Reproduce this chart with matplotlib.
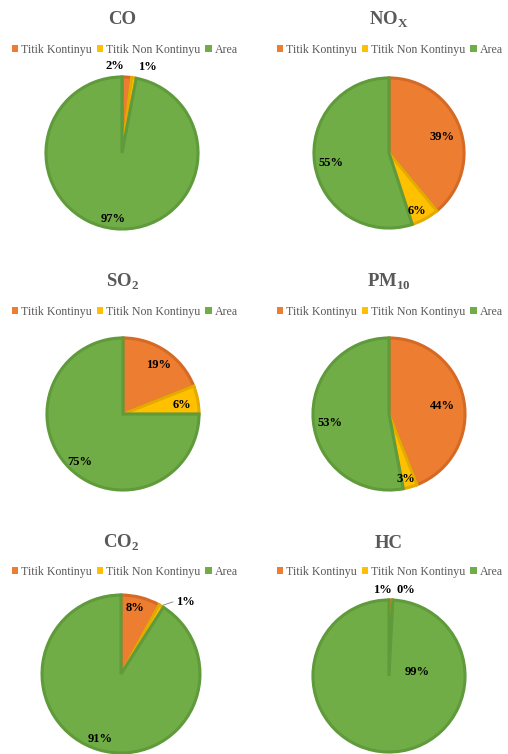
import matplotlib
matplotlib.use("Agg")
import matplotlib.pyplot as plt
from matplotlib.patches import Patch

# ---- data ----
categories = ["Titik Kontinyu", "Titik Non Kontinyu", "Area"]
titles = [r"CO", r"NO$_\mathregular{X}$", r"SO$_\mathregular{2}$",
          r"PM$_\mathregular{10}$", r"CO$_\mathregular{2}$", r"HC"]
co_vals = [2, 1, 97]
nox_vals = [39, 6, 55]
so2_vals = [19, 6, 75]
pm10_vals = [44, 3, 53]
co2_vals = [8, 1, 91]
hc_vals = [0.7, 0.1, 99.2]
all_vals = [co_vals, nox_vals, so2_vals, pm10_vals, co2_vals, hc_vals]

# ---- style / layout ----
colors = ["#ED7D31", "#FFC000", "#70AD47"]
edges = ["#D56A25", "#E3AA00", "#5F9A3B"]
W, H = 508, 754
# pie centre (px), radius (px)
pies = [(122, 153, 78), (389, 153, 77), (123, 414, 78),
        (389, 414, 78), (121, 674, 81), (389, 676, 78)]
title_y = [20, 20, 282, 282, 543, 543]
legend_y = [50, 50, 312, 312, 572, 572]
legend_x = [125, 390, 125, 390, 125, 390]
# label positions in radius units (x right, y up)
label_pos = [
    [(-0.09, 1.12), (0.33, 1.10), (-0.12, -0.85)],
    [(0.69, 0.21), (0.36, -0.75), (-0.75, -0.13)],
    [(0.45, 0.63), (0.76, 0.12), (-0.55, -0.62)],
    [(0.69, 0.10), (0.22, -0.83), (-0.76, -0.12)],
    [(0.17, 0.81), (0.80, 0.89), (-0.26, -0.80)],
    [(-0.09, 1.10), (0.22, 1.10), (0.36, 0.05)],
]
serif = ["Liberation Serif", "DejaVu Serif"]

fig = plt.figure(figsize=(W / 100, H / 100), dpi=100)
fig.patch.set_facecolor("white")

for i, vals in enumerate(all_vals):
    cx, cy, r = pies[i]
    ax = fig.add_axes([(cx - r) / W, 1 - (cy + r) / H, 2 * r / W, 2 * r / H])
    wedges, _ = ax.pie(vals, colors=colors, startangle=90, counterclock=False,
                       radius=0.975,
                       wedgeprops=dict(linewidth=2.2))
    for w, ec in zip(wedges, edges):
        w.set_edgecolor(ec)
    ax.set_xlim(-1, 1)
    ax.set_ylim(-1, 1)
    ax.set_aspect("equal")
    ax.axis("off")
    total = sum(vals)
    for j, v in enumerate(vals):
        lx, ly = label_pos[i][j]
        ax.text(lx, ly, f"{round(100 * v / total):d}%", ha="center", va="center",
                fontsize=9, fontweight="bold", family=serif, color="black",
                clip_on=False)
    if i == 4:
        # leader line for the 1% label of CO2
        ax.plot([0.52, 0.64], [0.85, 0.89], color="#7F7F7F", lw=0.6, clip_on=False)

    fig.text(cx / W, 1 - title_y[i] / H, titles[i], ha="center", va="center",
             fontsize=13.5, fontweight="bold", family=serif, color="#595959")
    handles = [Patch(facecolor=c, edgecolor="none") for c in colors]
    fig.legend(handles, categories, loc="center",
               bbox_to_anchor=(legend_x[i] / W, 1 - legend_y[i] / H), ncol=3,
               frameon=False, prop={"family": serif, "size": 8.6},
               handlelength=0.55, handleheight=0.55, handletextpad=0.25,
               columnspacing=0.4, labelcolor="#595959", borderpad=0.1)

fig.savefig("out.png", dpi=100, facecolor="white")
